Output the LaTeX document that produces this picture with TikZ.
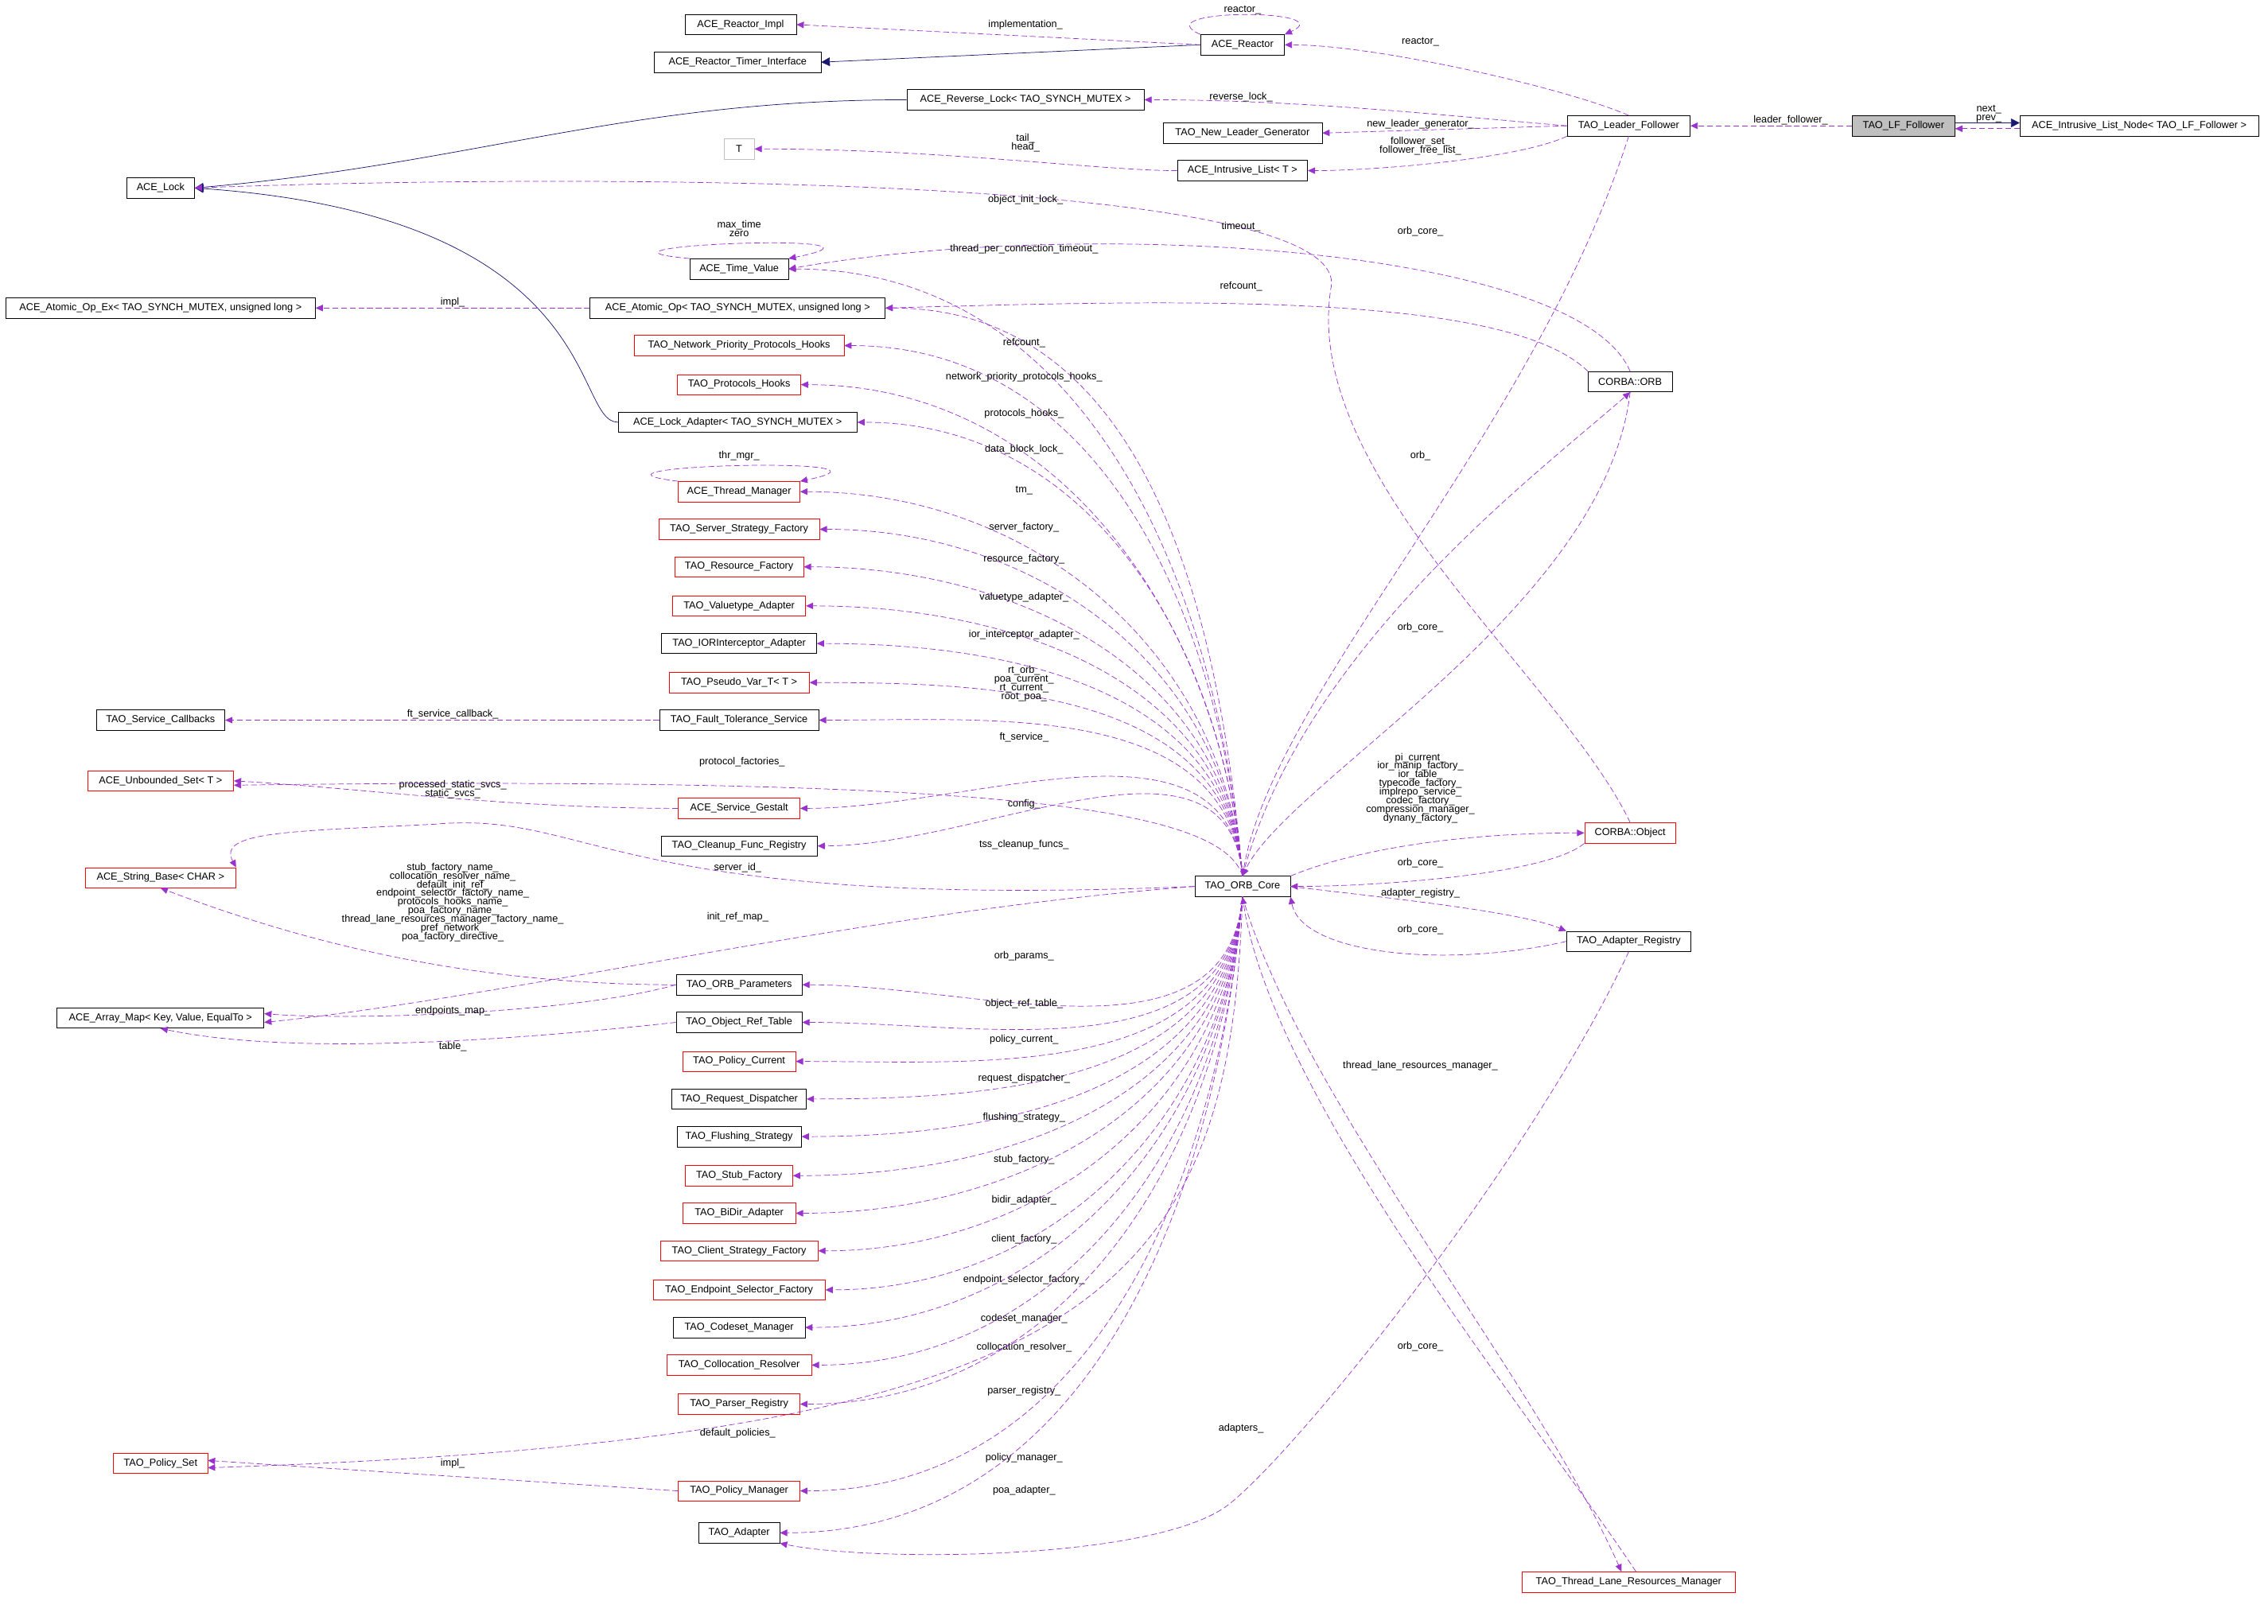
\documentclass[tikz,border=0pt]{standalone}
\usepackage{fontspec}
\newfontfamily\fs{Liberation Sans}
\usetikzlibrary{arrows.meta}
\definecolor{purp}{HTML}{9A32CD}
\definecolor{navyb}{HTML}{191970}
\begin{document}
\begin{tikzpicture}[x=1pt,y=-1pt,
  box/.style={draw=black,fill=white,minimum height=14pt,inner sep=1pt,font=\fs\fontsize{7}{8}\selectfont},
  rbox/.style={box,draw=red},
  dep/.style={draw=purp,dash pattern=on 4pt off 2pt,-{Triangle[length=5pt,width=4.5pt]}},
  inh/.style={draw=navyb,-{Triangle[length=6pt,width=6pt]}},
  lbl/.style={font=\fs\fontsize{7}{8}\selectfont,inner sep=0pt,align=center}]
\useasboundingbox (0,0) rectangle (1568,1123);
% nodes
\node[box,minimum width=77] (IMPL) at (512,17) {ACE\_Reactor\_Impl};
\node[box,minimum width=115] (TI) at (510,43) {ACE\_Reactor\_Timer\_Interface};
\node[box,minimum width=58] (R) at (859,31) {ACE\_Reactor};
\node[box,minimum width=164] (RL) at (709,69) {ACE\_Reverse\_Lock< TAO\_SYNCH\_MUTEX >};
\node[box,minimum width=110] (NLG) at (859,92) {TAO\_New\_Leader\_Generator};
\node[box,minimum width=85] (LL) at (1126,87) {TAO\_Leader\_Follower};
\node[box,minimum width=71,fill=black!25] (LF) at (1316,87) {TAO\_LF\_Follower};
\node[box,minimum width=165] (ILN) at (1479,87) {ACE\_Intrusive\_List\_Node< TAO\_LF\_Follower >};
\node[box,minimum width=21,draw=black!25] (T) at (511,103) {T};
\node[box,minimum width=90] (IL) at (859,118) {ACE\_Intrusive\_List< T >};
\node[box,minimum width=47] (AL) at (111,130) {ACE\_Lock};
\node[box,minimum width=68] (TV) at (511,186) {ACE\_Time\_Value};
\node[box,minimum width=214] (AOE) at (111,213) {ACE\_Atomic\_Op\_Ex< TAO\_SYNCH\_MUTEX, unsigned long >};
\node[box,minimum width=204] (AO) at (510,213) {ACE\_Atomic\_Op< TAO\_SYNCH\_MUTEX, unsigned long >};
\node[rbox,minimum width=145] (NPH) at (511,239) {TAO\_Network\_Priority\_Protocols\_Hooks};
\node[box,minimum width=58] (ORB) at (1127,264) {CORBA::ORB};
\node[rbox,minimum width=85] (PH) at (511,266) {TAO\_Protocols\_Hooks};
\node[box,minimum width=165] (LA) at (510,292) {ACE\_Lock\_Adapter< TAO\_SYNCH\_MUTEX >};
\node[rbox,minimum width=84] (TM) at (511,340) {ACE\_Thread\_Manager};
\node[rbox,minimum width=111] (SSF) at (511,366) {TAO\_Server\_Strategy\_Factory};
\node[rbox,minimum width=89] (RF) at (511,392) {TAO\_Resource\_Factory};
\node[rbox,minimum width=92] (VA) at (511,419) {TAO\_Valuetype\_Adapter};
\node[box,minimum width=107] (IORA) at (511,445) {TAO\_IORInterceptor\_Adapter};
\node[rbox,minimum width=97] (PV) at (511,472) {TAO\_Pseudo\_Var\_T< T >};
\node[box,minimum width=89] (SC) at (111,498) {TAO\_Service\_Callbacks};
\node[box,minimum width=110] (FT) at (511,498) {TAO\_Fault\_Tolerance\_Service};
\node[rbox,minimum width=101] (US) at (111,540) {ACE\_Unbounded\_Set< T >};
\node[rbox,minimum width=84] (SG) at (511,559) {ACE\_Service\_Gestalt};
\node[rbox,minimum width=63] (CO) at (1127,576) {CORBA::Object};
\node[box,minimum width=108] (CFR) at (511,585) {TAO\_Cleanup\_Func\_Registry};
\node[rbox,minimum width=104] (SB) at (111,607) {ACE\_String\_Base< CHAR >};
\node[box,minimum width=66] (OC) at (859,613) {TAO\_ORB\_Core};
\node[box,minimum width=86] (AR) at (1126,651) {TAO\_Adapter\_Registry};
\node[box,minimum width=87] (OP) at (511,681) {TAO\_ORB\_Parameters};
\node[box,minimum width=143] (AM) at (111,704) {ACE\_Array\_Map< Key, Value, EqualTo >};
\node[box,minimum width=87] (ORT) at (511,707) {TAO\_Object\_Ref\_Table};
\node[rbox,minimum width=78] (PC) at (511,734) {TAO\_Policy\_Current};
\node[box,minimum width=93] (RD) at (511,760) {TAO\_Request\_Dispatcher};
\node[box,minimum width=86] (FS) at (511,786) {TAO\_Flushing\_Strategy};
\node[rbox,minimum width=74] (STF) at (511,813) {TAO\_Stub\_Factory};
\node[rbox,minimum width=78] (BA) at (511,839) {TAO\_BiDir\_Adapter};
\node[rbox,minimum width=109] (CSF) at (511,865) {TAO\_Client\_Strategy\_Factory};
\node[rbox,minimum width=119] (ESF) at (511,892) {TAO\_Endpoint\_Selector\_Factory};
\node[box,minimum width=91] (CM) at (511,918) {TAO\_Codeset\_Manager};
\node[rbox,minimum width=100] (CR) at (511,944) {TAO\_Collocation\_Resolver};
\node[rbox,minimum width=84] (PR) at (511,971) {TAO\_Parser\_Registry};
\node[rbox,minimum width=65] (PS) at (111,1012) {TAO\_Policy\_Set};
\node[rbox,minimum width=84] (PM) at (511,1031) {TAO\_Policy\_Manager};
\node[box,minimum width=56] (TA) at (511,1060) {TAO\_Adapter};
\node[rbox,minimum width=147] (TL) at (1126,1094) {TAO\_Thread\_Lane\_Resources\_Manager};
% inheritance
\draw[inh] (R.west) -- (TI.east);
\draw[inh] (RL.west) to[out=180,in=5] (AL.east);
\draw[inh] (LA.west) .. controls (395,292) and (420,150) .. (AL.east);
\draw[inh] ([yshift=2]LF.east) -- ([yshift=2]ILN.west);
% top area dependencies
\draw[dep] ([yshift=-2]ILN.west) -- ([yshift=-2]LF.east);
\node[lbl] at (1375,79) {next\_\\[-2pt]prev\_};
\draw[dep] (LF.west) -- (LL.east); \node[lbl] at (1238,83) {leader\_follower\_};
\draw[dep] (R.west) -- (IMPL.east); \node[lbl] at (709,17) {implementation\_};
\draw[dep] (R.north west) .. controls +(-40,-18) and +(40,-18) .. (R.north east); \node[lbl] at (859,7) {reactor\_};
\draw[dep] (LL.north) .. controls (1080,60) and (950,31) .. (R.east); \node[lbl] at (982,29) {reactor\_};
\draw[dep] (LL.west) .. controls (1000,80) and (900,69) .. (RL.east); \node[lbl] at (858,67) {reverse\_lock\_};
\draw[dep] (LL.west) -- (NLG.east); \node[lbl] at (982,86) {new\_leader\_generator\_};
\draw[dep] (LL.south west) .. controls (1050,110) and (950,118) .. (IL.east); \node[lbl] at (982,101) {follower\_set\_\\[-2pt]follower\_free\_list\_};
\draw[dep] (IL.west) .. controls (760,118) and (650,103) .. (T.east); \node[lbl] at (709,99) {tail\_\\[-2pt]head\_};
\draw[dep] (CO.north) .. controls (1080,470) and (900,330) .. (920,200) .. controls (940,120) and (400,120) .. (AL.east); \node[lbl] at (709,138) {object\_init\_lock\_};
\draw[dep] (ORB.north) .. controls (1090,170) and (750,150) .. (TV.east); \node[lbl] at (858,157) {timeout\_};
\draw[dep] (ORB.north west) .. controls (1040,200) and (800,208) .. (AO.east); \node[lbl] at (858,198) {refcount\_};
\draw[dep] (TV.north west) .. controls (380,170) and (640,160) .. (TV.north east); \node[lbl] at (511,158) {max\_time\\[-2pt]zero};
\draw[dep] (TM.north west) .. controls (380,322) and (640,315) .. (TM.north east); \node[lbl] at (511,315) {thr\_mgr\_};
\draw[dep] (AO.west) -- (AOE.east); \node[lbl] at (313,209) {impl\_};
\draw[dep] (FT.west) -- (SC.east); \node[lbl] at (313,494) {ft\_service\_callback\_};
\draw[dep] (SG.west) .. controls (350,559) and (250,545) .. (US.east); \node[lbl] at (313,546) {processed\_static\_svcs\_\\[-2pt]static\_svcs\_};
% ORB_Core fan above
\foreach \t/\l/\ly in {TV/thread\_per\_connection\_timeout\_/172, AO/refcount\_/237, NPH/network\_priority\_protocols\_hooks\_/261, PH/protocols\_hooks\_/286, LA/data\_block\_lock\_/311, TM/tm\_/339, SSF/server\_factory\_/365, RF/resource\_factory\_/387, VA/valuetype\_adapter\_/413, IORA/ior\_interceptor\_adapter\_/439, FT/ft\_service\_/510, SG/config\_/556, CFR/tss\_cleanup\_funcs\_/584}
{\draw[dep] (OC.north) to[out=95,in=0] (\t.east); \node[lbl] at (708,\ly) {\l};}
\draw[dep] (OC.north) to[out=95,in=0] (PV.east); \node[lbl] at (708,473) {rt\_orb\_\\[-2pt]poa\_current\_\\[-2pt]rt\_current\_\\[-2pt]root\_poa\_};
\draw[dep] (OC.north) .. controls (845,560) and (700,536) .. ([yshift=-3]US.east); \node[lbl] at (513,527) {protocol\_factories\_};
% ORB_Core fan below
\foreach \t/\l/\ly in {OP/orb\_params\_/661, ORT/object\_ref\_table\_/694, PC/policy\_current\_/719, RD/request\_dispatcher\_/746, FS/flushing\_strategy\_/773, STF/stub\_factory\_/802, BA/bidir\_adapter\_/830, CSF/client\_factory\_/857, ESF/endpoint\_selector\_factory\_/885, CM/codeset\_manager\_/912, CR/collocation\_resolver\_/932, PR/parser\_registry\_/962, PM/policy\_manager\_/1008, TA/poa\_adapter\_/1031}
{\draw[dep] (OC.south) to[out=-95,in=0] (\t.east); \node[lbl] at (708,\ly) {\l};}
\draw[dep] (OC.south) .. controls (850,900) and (750,995) .. ([yshift=-3]PS.east); \node[lbl] at (510,991) {default\_policies\_};
\draw[dep] (PM.west) -- ([yshift=2]PS.east); \node[lbl] at (313,1012) {impl\_};
% left side
\draw[dep] (OC.west) .. controls (420,630) and (410,560) .. (300,570) .. controls (200,575) and (150,575) .. (SB.north east); \node[lbl] at (510,600) {server\_id\_};
\draw[dep] (OP.west) .. controls (300,681) and (180,640) .. (SB.south); \node[lbl] at (313,624) {stub\_factory\_name\_\\[-2pt]collocation\_resolver\_name\_\\[-2pt]default\_init\_ref\_\\[-2pt]endpoint\_selector\_factory\_name\_\\[-2pt]protocols\_hooks\_name\_\\[-2pt]poa\_factory\_name\_\\[-2pt]thread\_lane\_resources\_manager\_factory\_name\_\\[-2pt]pref\_network\_\\[-2pt]poa\_factory\_directive\_};
\draw[dep] (OC.west) .. controls (600,630) and (350,690) .. ([yshift=-3]AM.east); \node[lbl] at (510,634) {init\_ref\_map\_};
\draw[dep] (OP.west) .. controls (400,700) and (250,706) .. ([yshift=3]AM.east); \node[lbl] at (313,699) {endpoints\_map\_};
\draw[dep] (ORT.west) .. controls (350,720) and (200,730) .. (AM.south); \node[lbl] at (313,724) {table\_};
% right side
\draw[dep] (LL.south) .. controls (1060,300) and (880,480) .. (OC.north); \node[lbl] at (982,160) {orb\_core\_};
\draw[dep] (OC.north) .. controls (900,450) and (1060,330) .. (ORB.south); \node[lbl] at (982,315) {orb\_};
\draw[dep] (ORB.south) .. controls (1110,420) and (890,540) .. (OC.north); \node[lbl] at (982,434) {orb\_core\_};
\draw[dep] (OC.north east) .. controls (930,590) and (1000,576) .. (CO.west); \node[lbl] at (982,545) {pi\_current\_\\[-2pt]ior\_manip\_factory\_\\[-2pt]ior\_table\_\\[-2pt]typecode\_factory\_\\[-2pt]implrepo\_service\_\\[-2pt]codec\_factory\_\\[-2pt]compression\_manager\_\\[-2pt]dynany\_factory\_};
\draw[dep] (CO.south west) .. controls (1070,605) and (950,613) .. (OC.east); \node[lbl] at (982,597) {orb\_core\_};
\draw[dep] (OC.east) .. controls (950,620) and (1050,630) .. (AR.north west); \node[lbl] at (982,618) {adapter\_registry\_};
\draw[dep] (AR.west) .. controls (1000,670) and (900,660) .. (OC.south east); \node[lbl] at (982,643) {orb\_core\_};
\draw[dep] (AR.south) .. controls (1060,800) and (900,1000) .. (850,1040) .. controls (800,1080) and (600,1080) .. (TA.south east); \node[lbl] at (858,988) {adapters\_};
\draw[dep] (OC.south) .. controls (900,760) and (1060,950) .. ([xshift=-5]TL.north); \node[lbl] at (982,737) {thread\_lane\_resources\_manager\_};
\draw[dep] ([xshift=5]TL.north) .. controls (1060,980) and (880,760) .. (OC.south); \node[lbl] at (982,931) {orb\_core\_};
\end{tikzpicture}
\end{document}
